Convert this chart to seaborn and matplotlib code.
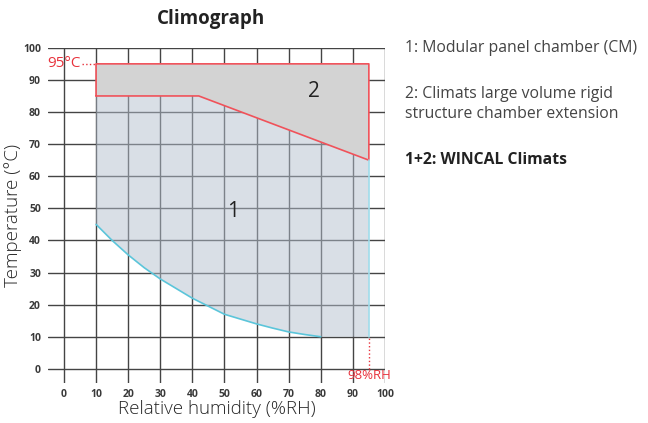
import matplotlib
matplotlib.use('Agg')
import matplotlib.pyplot as plt
import seaborn as sns
import pandas as pd
import numpy as np

# %% Data read off the climograph
# lower boundary of zone 1 (humidity limit curve)
rh_low = [10, 15, 20, 25, 30, 35, 40, 45, 50, 55, 60, 65, 70, 75, 80, 95]
t_low = [45, 40, 35.5, 31.5, 28, 25, 22, 19.5, 17, 15.5, 14, 12.7, 11.5, 10.7, 10, 10]
# upper boundary of zone 1 / lower boundary of zone 2
rh_mid = [10, 42, 95]
t_mid = [85, 85, 65]
# top of zone 2
t_max = 95
rh_max = 95
ticks = [0, 10, 20, 30, 40, 50, 60, 70, 80, 90, 100]

notes = ['1: Modular panel chamber (CM)',
         '2: Climats large volume rigid\nstructure chamber extension']
note_bold = '1+2: WINCAL Climats'

# %% Plot
sns.set_theme(style='white')
plt.rcParams['font.family'] = ['Open Sans', 'DejaVu Sans']

fig = plt.figure(figsize=(6.48, 4.23), dpi=100)
ax = fig.add_axes([0.074, 0.0946, 0.52, 0.7924])

# zone 1 polygon: lower curve, then back along the upper boundary
poly1_x = rh_low + rh_mid[::-1]
poly1_y = t_low + t_mid[::-1]
ax.fill(poly1_x, poly1_y, color='#b4c0cf', alpha=0.5, lw=0, zorder=2)

# zone 2 polygon
poly2_x = rh_mid + [rh_max, rh_mid[0]]
poly2_y = t_mid + [t_max, t_max]
ax.fill(poly2_x, poly2_y, facecolor='#d3d3d3', lw=0, zorder=3)
ax.plot(poly2_x + [rh_mid[0]], poly2_y + [t_mid[0]], color='#f0525a', lw=1.2, zorder=4)

# humidity curve and right edge of zone 1
df = pd.DataFrame({'rh': rh_low[:-1], 't': t_low[:-1]})
sns.lineplot(data=df, x='rh', y='t', color='#5bc5da', lw=1.2, ax=ax, zorder=4)
ax.plot([rh_max, rh_max], [t_low[-1], t_mid[-1]], color='#9fdcea', lw=1.2, zorder=4)

# dotted marks
ax.plot([5.5, rh_mid[0]], [t_max, t_max], ':', color='#e8323c', lw=1, zorder=4)
ax.plot([rh_max, rh_max], [0, t_low[-1]], ':', color='#e8323c', lw=1, zorder=4)
ax.text(5.3, t_max, '95°C', color='#e8323c', fontsize=11, ha='right', va='center', zorder=5)
ax.text(rh_max, -2.2, '98%RH', color='#e8323c', fontsize=9.5, ha='center', va='center', zorder=5)

ax.text(52.8, 49, '1', fontsize=15, ha='center', va='center', color='#222222', zorder=5)
ax.text(77.8, 86.5, '2', fontsize=15, ha='center', va='center', color='#222222', zorder=5)

ax.set_xlim(-5, 100)
ax.set_ylim(-4.4, 100)
ax.set_xticks(ticks)
ax.set_yticks(ticks)
ax.grid(True, color='#444444', lw=1)
ax.set_axisbelow(True)
for s in ax.spines.values():
    s.set_visible(False)
ax.tick_params(axis='both', length=0, labelsize=7.5, labelcolor='#3a3a3a')
for lab in ax.get_xticklabels() + ax.get_yticklabels():
    lab.set_fontweight('bold')
ax.tick_params(axis='x', pad=4)
ax.tick_params(axis='y', pad=5)

ax.set_xlabel('Relative humidity (%RH)', fontsize=13.5, color='#262626', fontweight='light', labelpad=0)
ax.set_ylabel('Temperature (°C)', fontsize=13.5, color='#262626', fontweight='light', labelpad=1)
fig.text(0.325, 0.955, 'Climograph', fontsize=13.5, fontweight='bold', ha='center', va='center', color='#222222')

fig.text(0.625, 0.887, notes[0], fontsize=11.3, color='#444444', va='center')
fig.text(0.625, 0.754, notes[1], fontsize=11.3, color='#444444', va='center', linespacing=1.3)
fig.text(0.625, 0.622, note_bold, fontsize=11.3, color='#222222', fontweight='bold', va='center')

plt.savefig('out.png', dpi=100)
